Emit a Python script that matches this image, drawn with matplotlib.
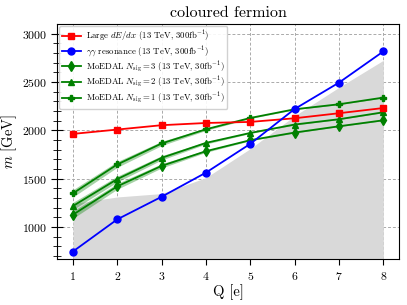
import numpy as np
import matplotlib
matplotlib.use("Agg")
import matplotlib.pyplot as plt

plt.rcParams['font.family'] = 'serif'
plt.rcParams['font.serif'] = ['cmr10']
plt.rcParams['mathtext.fontset'] = 'cm'
plt.rcParams['axes.formatter.use_mathtext'] = True

# charges
Q = [1, 2, 3, 4, 5, 6, 7, 8]

# mass reach [GeV]
dedx = [1963, 2008, 2053, 2076, 2087, 2125, 2177, 2231]
diphoton = [745, 1078, 1312, 1562, 1860, 2221, 2494, 2817]
moedal_n3 = [1126, 1420, 1632, 1784, 1898, 1977, 2042, 2104]
moedal_n2 = [1216, 1495, 1715, 1870, 1973, 2060, 2115, 2187]
moedal_n1 = [1347, 1647, 1864, 2011, 2128, 2218, 2270, 2339]
# half width of the MoEDAL bands
band_width = [38, 30, 22, 12, 6, 5, 4, 4]

# grey excluded region (upper edge)
excluded = [1240, 1310, 1345, 1510, 1810, 2150, 2445, 2725]

fig = plt.figure(figsize=(4.07, 3.05), dpi=100)
ax = fig.add_axes([0.141, 0.150, 0.839, 0.771])

ax.fill_between(Q, 0, excluded, color='#d9d9d9', lw=0, zorder=1)

ax.plot(Q, dedx, '-s', color='red', lw=1.3, ms=5, zorder=5,
        label=r'Large $dE/dx$ (13 TeV, 300fb$^{-1}$)')
ax.plot(Q, diphoton, '-o', color='blue', lw=1.3, ms=5, zorder=5,
        label=r'$\gamma\gamma$ resonance (13 TeV, 300fb$^{-1}$)')

bw = np.array(band_width)
for vals, mk, n in [(moedal_n3, 'd', 3), (moedal_n2, '^', 2), (moedal_n1, 'P', 1)]:
    v = np.array(vals)
    ax.fill_between(Q, v - bw, v + bw, color='green', alpha=0.35, lw=0, zorder=3)
    ax.plot(Q, vals, '-', marker=mk, color='green', lw=1.3, ms=5, zorder=4,
            label=r'MoEDAL $N_{\rm sig} = %d$ (13 TeV, 30fb$^{-1}$)' % n)

ax.set_xlim(0.65, 8.35)
ax.set_ylim(665, 3100)
ax.set_xticks(Q)
ax.set_yticks([1000, 1500, 2000, 2500, 3000])
ax.set_yticks(np.arange(700, 3100, 100), minor=True)
ax.tick_params(axis='y', which='major', direction='inout', length=8, labelsize=8.5)
ax.tick_params(axis='y', which='minor', direction='inout', length=6)
ax.tick_params(axis='x', which='major', direction='out', length=4, labelsize=8.5)
ax.grid(True, which='major', ls=(0, (3, 2)), color='#aaaaaa', lw=0.7)
ax.set_axisbelow(True)

ax.set_title('coloured fermion', fontsize=11.5, pad=5)
ax.set_xlabel('Q [e]', fontsize=10.5, labelpad=2)
ax.set_ylabel(r'$m$ [GeV]', fontsize=10.5, labelpad=2)
ax.legend(loc='upper left', fontsize=6.3, handlelength=2.2, borderaxespad=0.2,
          labelspacing=0.05, handletextpad=0.6, borderpad=0.3, framealpha=0.9)

fig.savefig('out.png', dpi=100)
